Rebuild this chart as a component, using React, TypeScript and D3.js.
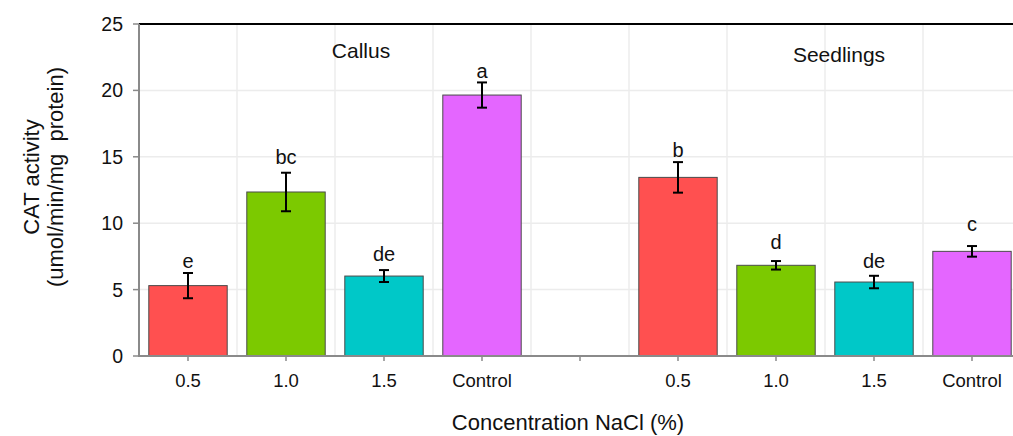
import React from "react";
import * as d3 from "d3";

// Treatment slots along the x axis (one empty slot separates the two groups)
const slots = ["c0.5", "c1.0", "c1.5", "cCtrl", "gap", "s0.5", "s1.0", "s1.5", "sCtrl"];
const tickLabels = ["0.5", "1.0", "1.5", "Control", "", "0.5", "1.0", "1.5", "Control"];

// Bars (slot, mean, standard error, significance letter, letter baseline value)
const barSlots = ["c0.5", "c1.0", "c1.5", "cCtrl", "s0.5", "s1.0", "s1.5", "sCtrl"];
const means = [5.3, 12.35, 6.02, 19.65, 13.45, 6.83, 5.57, 7.88];
const errors = [0.95, 1.45, 0.45, 0.95, 1.15, 0.32, 0.47, 0.4];
const letters = ["e", "bc", "de", "a", "b", "d", "de", "c"];
const letterValues = [6.6, 14.45, 7.15, 20.9, 15.0, 8.05, 6.6, 9.4];
const barColors = ["#FF5050", "#7CC900", "#00C8C8", "#E466FF", "#FF5050", "#7CC900", "#00C8C8", "#E466FF"];

const groups = ["Callus", "Seedlings"];
const groupX = [361, 839];
const groupY = [58, 62];
const yTicks = [0, 5, 10, 15, 20, 25];

const W = 1013;
const H = 436;
const FONT = "'Liberation Sans', Arial, sans-serif";

export default function App() {
  const left = 139;
  const top = 24;
  const bottom = 356;
  const x = d3.scaleBand<string>().domain(slots).range([left, 1021]).paddingInner(0.2).paddingOuter(0.1);
  const y = d3.scaleLinear().domain([0, 25]).range([bottom, top]);
  const step = x.step();
  const center = (s: string) => (x(s) as number) + x.bandwidth() / 2;

  return (
    <svg width={W} height={H} style={{ position: "absolute", left: 0, top: 0, background: "#fff" }} fontFamily={FONT}>
      {/* grid */}
      {yTicks.slice(1, -1).map((t) => (
        <line key={"hg" + t} x1={left} x2={W} y1={y(t)} y2={y(t)} stroke="#ececec" strokeWidth={1.5} />
      ))}
      {slots.map((s) => (
        <line key={"vg" + s} x1={center(s) + step / 2} x2={center(s) + step / 2} y1={top} y2={bottom} stroke="#ececec" strokeWidth={1.5} />
      ))}

      {/* bars */}
      {barSlots.map((s, i) => (
        <rect key={"b" + i} x={x(s)} y={y(means[i])} width={x.bandwidth()} height={y(0) - y(means[i])}
          fill={barColors[i]} stroke="#4a4a4a" strokeWidth={1} />
      ))}

      {/* error bars */}
      {barSlots.map((s, i) => {
        const cx = center(s);
        const hi = y(means[i] + errors[i]);
        const lo = y(means[i] - errors[i]);
        return (
          <g key={"e" + i} stroke="#000" strokeWidth={2}>
            <line x1={cx} x2={cx} y1={hi} y2={lo} />
            <line x1={cx - 5} x2={cx + 5} y1={hi} y2={hi} />
            <line x1={cx - 5} x2={cx + 5} y1={lo} y2={lo} />
          </g>
        );
      })}

      {/* significance letters */}
      {barSlots.map((s, i) => (
        <text key={"l" + i} x={center(s)} y={y(letterValues[i])} textAnchor="middle" fontSize={20} fill="#111">
          {letters[i]}
        </text>
      ))}

      {/* group titles */}
      {groups.map((g, i) => (
        <text key={g} x={groupX[i]} y={groupY[i]} textAnchor="middle" fontSize={21} fill="#111">
          {g}
        </text>
      ))}

      {/* axes */}
      <line x1={left} x2={W} y1={top} y2={top} stroke="#000" strokeWidth={2} />
      <line x1={left} x2={left} y1={top} y2={bottom} stroke="#8a8a8a" strokeWidth={2} />
      <line x1={left - 1} x2={W} y1={bottom} y2={bottom} stroke="#8a8a8a" strokeWidth={2} />
      {yTicks.map((t) => (
        <g key={"yt" + t}>
          <line x1={left - 6} x2={left} y1={y(t)} y2={y(t)} stroke="#8a8a8a" strokeWidth={1.5} />
          <text x={left - 16} y={y(t) + 7} textAnchor="end" fontSize={19.5} fill="#111">{t}</text>
        </g>
      ))}
      {slots.map((s, i) => (
        <g key={"xt" + s}>
          <line x1={center(s)} x2={center(s)} y1={bottom} y2={bottom + 5} stroke="#8a8a8a" strokeWidth={1.5} />
          <text x={center(s)} y={bottom + 31} textAnchor="middle" fontSize={18.5} fill="#111">{tickLabels[i]}</text>
        </g>
      ))}

      {/* axis titles */}
      <text x={568} y={430} textAnchor="middle" fontSize={22} fill="#111">Concentration NaCl (%)</text>
      <g transform="translate(39,177) rotate(-90)">
        <text x={0} y={0} textAnchor="middle" fontSize={22} fill="#111">CAT activity</text>
        <text x={0} y={24} textAnchor="middle" fontSize={22} fill="#111" style={{ whiteSpace: "pre" }}>(umol/min/mg  protein)</text>
      </g>
    </svg>
  );
}
